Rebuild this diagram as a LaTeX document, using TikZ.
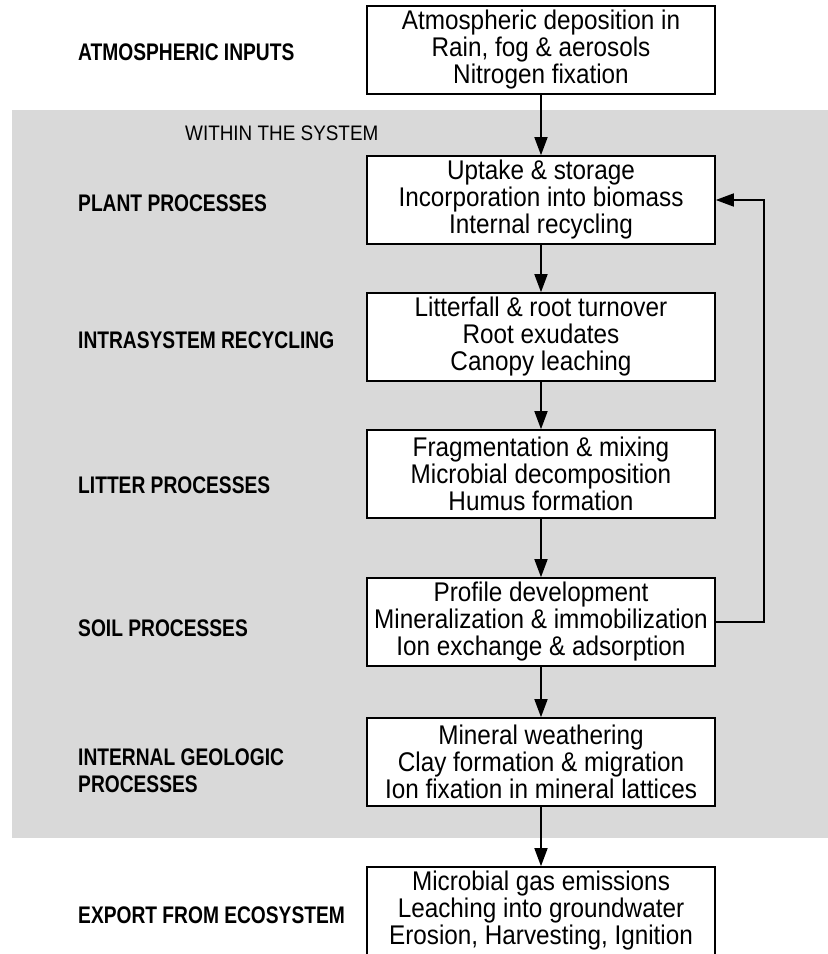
\documentclass[tikz,border=0pt]{standalone}
\usepackage{fontspec}
\setmainfont{Liberation Sans}
\newfontfamily\boxfont[FakeStretch=0.9]{Liberation Sans}
\newfontfamily\lblfont[FakeStretch=0.8]{Liberation Sans}
\usetikzlibrary{arrows.meta}

\tikzset{
	proc/.style={draw, fill=white, line width=1.6pt, minimum width=348pt, minimum height=88pt,
		align=center, inner sep=0pt, font=\boxfont\fontsize{27}{27}\selectfont},
	lbl/.style={anchor=west, align=left, inner sep=0pt, font=\lblfont\bfseries\fontsize{24}{27}\selectfont},
	flow/.style={line width=1.6pt, -{Triangle[length=18pt,width=13pt]}},
}

\begin{document}
\begin{tikzpicture}[x=1pt,y=1pt]
\useasboundingbox (0,0) rectangle (828,-954);
\fill[gray!30] (12,-110) rectangle (828,-838);

% boxes
\node[proc] (atm) at (541,-50) {Atmospheric deposition in\\Rain, fog \& aerosols\\Nitrogen fixation};
\node[proc] (plant) at (541,-200) {Uptake \& storage\\Incorporation into biomass\\Internal recycling};
\node[proc] (recyc) at (541,-337) {Litterfall \& root turnover\\Root exudates\\Canopy leaching};
\node[proc] (litter) at (541,-474) {Fragmentation \& mixing\\Microbial decomposition\\Humus formation};
\node[proc] (soil) at (541,-622) {Profile development\\Mineralization \& immobilization\\Ion exchange \& adsorption};
\node[proc] (geo) at (541,-762) {Mineral weathering\\Clay formation \& migration\\Ion fixation in mineral lattices};
\node[proc] (export) at (541,-911) {Microbial gas emissions\\Leaching into groundwater\\Erosion, Harvesting, Ignition};

% labels
\node[lbl] (latm) at (78,-52) {ATMOSPHERIC INPUTS};
\node[anchor=west, inner sep=0pt, font=\boxfont\fontsize{21}{27}\selectfont] (within) at (185,-133) {WITHIN THE SYSTEM};
\node[lbl] (lplant) at (78,-203) {PLANT PROCESSES};
\node[lbl] (lrecyc) at (78,-340) {INTRASYSTEM RECYCLING};
\node[lbl] (llitter) at (78,-485) {LITTER PROCESSES};
\node[lbl] (lsoil) at (78,-628) {SOIL PROCESSES};
\node[lbl] (lgeo) at (78,-771) {INTERNAL GEOLOGIC\\PROCESSES};
\node[lbl] (lexport) at (78,-915) {EXPORT FROM ECOSYSTEM};

% arrows
\foreach \a/\b in {atm/plant, plant/recyc, recyc/litter, litter/soil, soil/geo, geo/export}
	\draw[flow] (\a) -- (\b);
\coordinate (back) at (764,-622);
\draw[flow] (soil.east) -- (back) |- (plant.east);

\end{tikzpicture}
\end{document}
